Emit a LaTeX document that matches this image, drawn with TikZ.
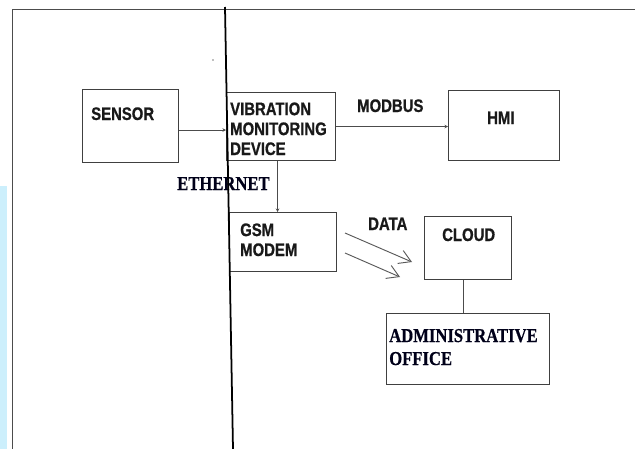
\documentclass[tikz,border=0pt]{standalone}
\usepackage{fontspec}
\usepackage{tikz}
\usetikzlibrary{arrows.meta}
\newfontfamily\blockfont[FakeStretch=0.82, FakeBold=0.8, UprightFont={* Bold}]{Liberation Sans}
\newfontfamily\notefont[FakeStretch=0.845, FakeBold=0.6, UprightFont={* Bold}]{Liberation Serif}

\tikzset{
    blockbox/.style={draw=black!75, line width=0.9pt, anchor=north west, inner sep=0pt},
    blocktext/.style={anchor=base west, inner sep=0pt, align=left,
        font=\blockfont\fontsize{15.5}{17}\selectfont, text=black!90},
    notetext/.style={anchor=base west, inner sep=0pt, align=left,
        font=\notefont\fontsize{16.8}{19.6}\selectfont, text=black!90!blue},
    flow/.style={draw=black!70, line width=0.8pt, -{Stealth[length=3pt,width=3pt]}},
    link/.style={draw=black!70, line width=0.8pt},
    datalink/.style={draw=black!65, line width=0.8pt, -{Straight Barb[length=10pt,width=12pt]}}
}

\begin{document}
\begin{tikzpicture}[x=0.03cm,y=-0.03cm]
    \useasboundingbox (0,0) rectangle (635,449);
    % Page edge and frame
    \fill[cyan!20] (0,186) rectangle (7,449);
    \draw[black!70, line width=0.8pt] (12,449) -- (12,9) -- (635,9);
    \fill[black!50] (213,60) circle (0.8);
    % Draw the blocks
    \node[blockbox, minimum width=2.88cm, minimum height=2.19cm] (sensor) at (82,89) {};
    \node[blockbox, minimum width=3.27cm, minimum height=2.04cm] (vmd) at (226,92) {};
    \node[blockbox, minimum width=3.33cm, minimum height=2.10cm] (hmi) at (448,90) {};
    \node[blockbox, minimum width=3.21cm, minimum height=1.77cm] (gsm) at (229,212) {};
    \node[blockbox, minimum width=2.61cm, minimum height=1.89cm] (cloud) at (424,216) {};
    \node[blockbox, minimum width=4.89cm, minimum height=2.13cm] (admin) at (386,313) {};
    % Block texts (base anchor sits on the last line)
    \node[blocktext] (sensortxt) at (91,120) {SENSOR};
    \node[blocktext] (vmdtxt) at (230,155) {VIBRATION\\MONITORING\\DEVICE};
    \node[blocktext] (hmitxt) at (487,124) {HMI};
    \node[blocktext] (gsmtxt) at (240,256) {GSM\\MODEM};
    \node[blocktext] (cloudtxt) at (442,241) {CLOUD};
    \node[notetext] (admintxt) at (389,365) {ADMINISTRATIVE\\OFFICE};
    % Connectors and their labels
    \coordinate (s1) at ([yshift=-3.4pt]sensor.east);
    \draw[flow] (s1) -- (s1 -| vmd.west);
    \draw[flow] (vmd.east) -- (vmd.east -| hmi.west);
    \node[blocktext] (modbus) at (357,112) {MODBUS};
    \coordinate (e1) at ([xshift=-3pt]vmd.south);
    \draw[flow] (e1) -- (e1 |- gsm.north);
    \node[notetext] (ethernet) at (177,190) {ETHERNET};
    \coordinate (c1) at ([xshift=-3.8pt]cloud.south);
    \draw[link] (c1) -- (c1 |- admin.north);
    % Data sent from the modem to the cloud
    \coordinate (d1) at (345,233);
    \coordinate (d2) at (412,262);
    \coordinate (d3) at (345,253);
    \coordinate (d4) at (400,277);
    \draw[datalink] (d1) -- (d2);
    \draw[datalink] (d3) -- (d4);
    \node[blocktext] (data) at (368,230) {DATA};
    % Slanted black rule across the page
    \draw[black, line width=1.5pt] (225,7) -- (233,449);
\end{tikzpicture}
\end{document}
